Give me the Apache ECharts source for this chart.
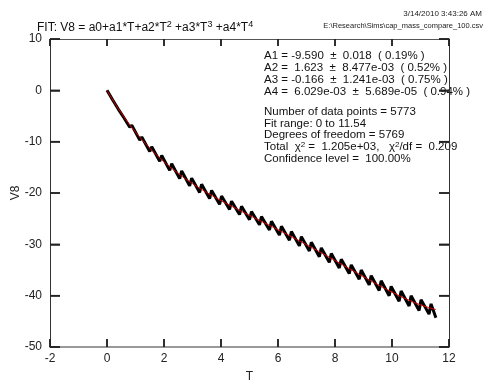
<!DOCTYPE html>
<html><head><meta charset="utf-8">
<script src="https://cdn.jsdelivr.net/npm/echarts@6/dist/echarts.min.js"></script>
<style>html,body{margin:0;padding:0;background:#fff}#c{width:500px;height:386px}</style>
</head><body><div id="c"></div>
<script>
// Measured data (black)
const dataT = [0,0.2,0.4,0.6,0.80,0.87,1.15,1.22,1.50,1.57,1.85,1.92,2.20,2.27,2.55,2.62,2.90,2.97,3.25,3.32,3.60,3.67,3.95,4.02,4.30,4.37,4.65,4.72,5.00,5.07,5.35,5.42,5.70,5.77,6.05,6.12,6.40,6.47,6.75,6.82,7.10,7.17,7.45,7.52,7.80,7.87,8.15,8.22,8.50,8.57,8.85,8.92,9.20,9.27,9.55,9.62,9.90,9.97,10.25,10.32,10.60,10.67,10.95,11.02,11.30,11.37,11.54];
const dataV8 = [0,-1.9,-3.7,-5.4,-7.2,-6.8,-9.7,-9.1,-11.9,-11.0,-13.8,-12.7,-15.6,-14.3,-17.2,-15.7,-18.6,-17.1,-19.9,-18.3,-21.1,-19.5,-22.2,-20.6,-23.2,-21.6,-24.2,-22.6,-25.2,-23.6,-26.2,-24.6,-27.2,-25.5,-28.2,-26.5,-29.2,-27.5,-30.3,-28.5,-31.3,-29.6,-32.4,-30.7,-33.5,-31.8,-34.6,-32.9,-35.7,-34.0,-36.8,-35.0,-37.9,-36.1,-39.0,-37.1,-40.0,-38.2,-41.1,-39.1,-42.0,-40.0,-42.9,-40.8,-43.6,-41.6,-44.3];
// Fit curve (red)
const fitT = [0,0.25,0.5,0.75,1,1.5,2,2.5,3,3.5,4,4.5,5,5.5,6,6.5,7,7.5,8,8.5,9,9.5,10,10.5,11,11.54];
const fitV8 = [0,-2.3,-4.41,-6.35,-8.13,-11.26,-13.92,-16.19,-18.16,-19.90,-21.47,-22.94,-24.36,-25.75,-27.15,-28.59,-30.07,-31.58,-33.15,-34.73,-36.30,-37.84,-39.31,-40.64,-41.79,-42.7];
const xTickVals = [-2,0,2,4,6,8,10,12];
const yTickVals = [-50,-40,-30,-20,-10,0,10];
const xTicks = {min:-2, max:12, interval:2};
const yTicks = {min:-50, max:10, interval:10};

const fitLines = [
  '{t|A1 = -9.590  ±  0.018  ( 0.19% )}',
  '{t|A2 =  1.623  ±  8.477e-03  ( 0.52% )}',
  '{t|A3 = -0.166  ±  1.241e-03  ( 0.75% )}',
  '{t|A4 =  6.029e-03  ±  5.689e-05  ( 0.94% )}'
];
const statLines = [
  '{t|Number of data points = 5773}',
  '{t|Fit range: 0 to 11.54}',
  '{t|Degrees of freedom = 5769}',
  '{t|Total  χ}{s|2}{t| =  1.205e+03,   χ}{s|2}{t|/df =  0.209}',
  '{t|Confidence level =  100.00%}'
];

const FONT = '"Liberation Sans", Arial, sans-serif';
const TICK = '#222';
const chart = echarts.init(document.getElementById('c'));
const texts = [
  {type:'text', right:18, top:10, style:{text:'3/14/2010 3:43:26 AM', font:'8px '+FONT, fill:'#222'}},
  {type:'text', right:17, top:22, style:{text:'E:\\Research\\Sims\\cap_mass_compare_100.csv', font:'7.5px '+FONT, fill:'#222'}},
  {type:'text', left:37, top:20, style:{
    text:'{t|FIT: V8 = a0+a1*T+a2*T}{s|2}{t| +a3*T}{s|3}{t| +a4*T}{s|4}',
    rich:{t:{fontSize:12, fontFamily:FONT, fill:'#111', lineHeight:14, verticalAlign:'bottom'}, s:{fontSize:9, fontFamily:FONT, fill:'#111', lineHeight:14, verticalAlign:'top', padding:[0,0,5,0]}}
  }},
  {type:'text', left:264, top:50, style:{
    text:fitLines.join('\n'),
    rich:{t:{fontSize:11.5, fontFamily:FONT, fill:'#111', lineHeight:12}}
  }},
  {type:'text', left:264, top:106, style:{
    text:statLines.join('\n'),
    rich:{t:{fontSize:11.5, fontFamily:FONT, fill:'#111', lineHeight:11.6, verticalAlign:'bottom'}, s:{fontSize:8, fontFamily:FONT, fill:'#111', lineHeight:11.6, verticalAlign:'top', padding:[0,0,4,0]}}
  }}
];
chart.setOption({
  animation:false,
  backgroundColor:'#fff',
  grid:{left:50,right:51,top:39,bottom:39, containLabel:false, outerBoundsMode:'none'},
  xAxis:[{
    type:'value', min:xTicks.min, max:xTicks.max, interval:xTicks.interval,
    name:'T', nameLocation:'middle', nameGap:24, nameMoveOverlap:false,
    nameTextStyle:{color:'#222', fontSize:12, fontFamily:FONT},
    axisLine:{show:true, onZero:false, lineStyle:{color:'#999', width:2}},
    axisTick:{show:true, inside:true, length:8, lineStyle:{color:TICK, width:1.5}},
    axisLabel:{color:'#222', fontSize:12, fontFamily:FONT, margin:6},
    splitLine:{show:false}
  },{
    type:'value', position:'top', min:xTicks.min, max:xTicks.max, interval:xTicks.interval,
    axisLine:{show:true, onZero:false, lineStyle:{color:'#555', width:1}},
    axisTick:{show:true, inside:true, length:7, lineStyle:{color:TICK, width:1.5}},
    axisLabel:{show:false}, splitLine:{show:false}
  }],
  yAxis:[{
    type:'value', min:yTicks.min, max:yTicks.max, interval:yTicks.interval,
    name:'V8', nameLocation:'middle', nameGap:28, nameMoveOverlap:false,
    nameTextStyle:{color:'#222', fontSize:12, fontFamily:FONT},
    axisLine:{show:true, onZero:false, lineStyle:{color:'#333', width:1}},
    axisTick:{show:true, inside:true, length:10, lineStyle:{color:TICK, width:1.5}},
    axisLabel:{color:'#222', fontSize:12, fontFamily:FONT, margin:8},
    splitLine:{show:false}
  },{
    type:'value', position:'right', min:yTicks.min, max:yTicks.max, interval:yTicks.interval,
    axisLine:{show:true, onZero:false, lineStyle:{color:'#333', width:1}},
    axisTick:{show:true, inside:true, length:10, lineStyle:{color:TICK, width:1.5}},
    axisLabel:{show:false}, splitLine:{show:false}
  }],
  series:[{
    type:'line', data:dataT.map((t,i)=>[t,dataV8[i]]), showSymbol:false,
    lineStyle:{color:'#000', width:3}, z:2
  },{
    type:'line', data:fitT.map((t,i)=>[t,fitV8[i]]), showSymbol:false, smooth:true,
    lineStyle:{color:'#e00000', width:1}, z:3
  }],
  graphic: texts
});
// Tick marks, positioned through the chart's own scales
const ticks = [];
function px(x,y){ return chart.convertToPixel({gridIndex:0}, [x,y]); }
function seg(a,b){
  return {type:'line', silent:true, z:100, shape:{x1:a[0],y1:a[1],x2:b[0],y2:b[1]}, style:{stroke:TICK, lineWidth:1.5}};
}
xTickVals.forEach(v=>{
  const b = px(v, yTicks.min), t = px(v, yTicks.max);
  ticks.push(seg([b[0],b[1]],[b[0],b[1]-8]));
  ticks.push(seg([t[0],t[1]],[t[0],t[1]+7]));
});
yTickVals.forEach(v=>{
  const l = px(xTicks.min, v), r = px(xTicks.max, v);
  ticks.push(seg([l[0],l[1]],[l[0]+10,l[1]]));
  ticks.push(seg([r[0],r[1]],[r[0]-10,r[1]]));
});
chart.setOption({graphic: texts.concat(ticks)}, {replaceMerge:['graphic']});
</script></body></html>
